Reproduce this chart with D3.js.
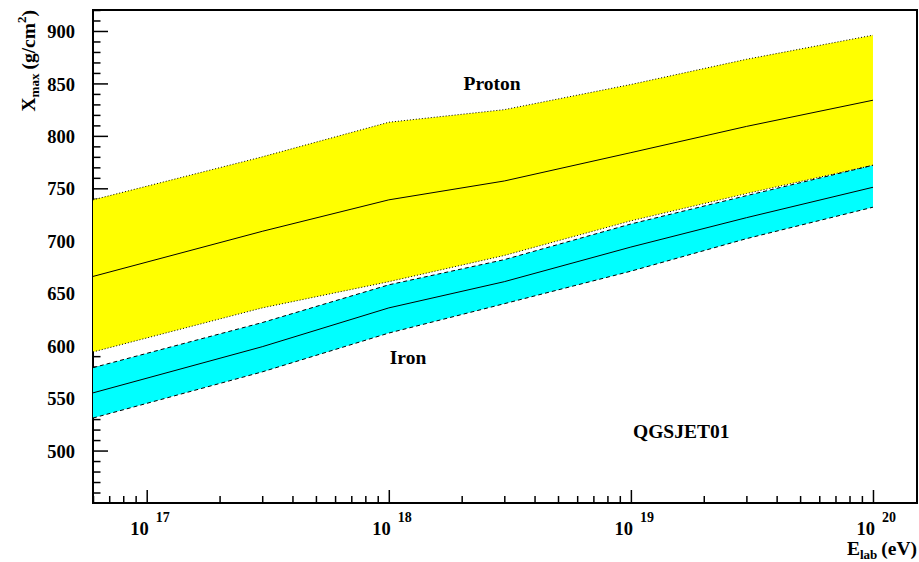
<!DOCTYPE html>
<html>
<head>
<meta charset="utf-8">
<script src="https://cdn.jsdelivr.net/npm/d3@7"></script>
<style>
  body { margin: 0; background: #fff; }
  svg { display: block; }
  text { font-family: "Liberation Serif", "Times New Roman", serif; font-weight: bold; fill: #000; }
</style>
</head>
<body>
<div id="chart"></div>
<script>
// E_lab (eV) sample points
var energy      = [6e16, 3e17, 1e18, 3e18, 1e19, 3e19, 1e20];
// Xmax (g/cm2), proton band
var protonMean  = [666, 709, 739, 757, 784, 809, 834];
var protonUpper = [739, 780, 813, 825, 849, 873, 896];
var protonLower = [594, 636, 661, 686, 719, 745, 772];
// Xmax (g/cm2), iron band
var ironMean    = [555, 599, 636, 661, 694, 722, 751];
var ironUpper   = [579, 622, 658, 682, 716, 743, 772];
var ironLower   = [531, 575, 612, 640, 671, 702, 732];

var yMajor = [500, 550, 600, 650, 700, 750, 800, 850, 900];
var xMajor = [1e17, 1e18, 1e19, 1e20];
var xExp   = ["17", "18", "19", "20"];

var W = 919, H = 562;
var frame = {left: 93, right: 917, top: 10, bottom: 503};

var x = d3.scaleLog().domain([6e16, 1.52e20]).range([frame.left, frame.right]);
var y = d3.scaleLinear().domain([450, 920]).range([frame.bottom, frame.top]);

var svg = d3.select("#chart").append("svg")
  .attr("width", W).attr("height", H);

// minor tick values
var yMinor = d3.range(450, 921, 10).filter(function(v){ return v % 50 !== 0; });
var xMinor = [];
[16, 17, 18, 19, 20].forEach(function(e){
  for (var k = 2; k <= 9; k++) {
    var v = k * Math.pow(10, e);
    if (v >= 6e16 && v <= 1.52e20) xMinor.push(v);
  }
});

function styleAxis(g){
  g.select(".domain").remove();
  g.selectAll(".tick line").attr("stroke", "#000").attr("stroke-width", 1.5);
}

// y axis
svg.append("g").attr("transform", "translate(" + frame.left + ",0)")
  .call(d3.axisLeft(y).tickValues(yMinor).tickSize(-7.5).tickFormat(""))
  .call(styleAxis);
svg.append("g").attr("transform", "translate(" + frame.left + ",0)")
  .call(d3.axisLeft(y).tickValues(yMajor).tickSize(-15).tickPadding(18).tickFormat(d3.format("d")))
  .call(styleAxis)
  .call(function(g){
    g.attr("font-family", null).attr("font-size", null);
    g.selectAll(".tick text").attr("font-size", 18.5).attr("dy", "0.36em");
  });

// x axis
svg.append("g").attr("transform", "translate(0," + frame.bottom + ")")
  .call(d3.axisBottom(x).tickValues(xMinor).tickSize(-7).tickFormat(""))
  .call(styleAxis);
svg.append("g").attr("transform", "translate(0," + frame.bottom + ")")
  .call(d3.axisBottom(x).tickValues(xMajor).tickSize(-13).tickFormat(""))
  .call(styleAxis);

var xl = svg.append("g").selectAll("g").data(xMajor).enter().append("g");
xl.append("text")
  .attr("x", function(d){ return x(d) + 2; })
  .attr("y", 535)
  .attr("text-anchor", "end")
  .attr("font-size", 18.5)
  .text("10");
xl.append("text")
  .attr("x", function(d){ return x(d) + 9; })
  .attr("y", 522)
  .attr("font-size", 14)
  .text(function(d, i){ return xExp[i]; });

// frame
svg.append("rect")
  .attr("x", frame.left).attr("y", frame.top)
  .attr("width", frame.right - frame.left).attr("height", frame.bottom - frame.top)
  .attr("fill", "none").attr("stroke", "#000").attr("stroke-width", 2);

// bands
function band(lo, hi){
  return d3.area()
    .x(function(d, i){ return x(energy[i]); })
    .y0(function(d, i){ return y(lo[i]); })
    .y1(function(d, i){ return y(hi[i]); })(energy);
}
function line(vals){
  return d3.line()
    .x(function(d, i){ return x(energy[i]); })
    .y(function(d){ return y(d); })(vals);
}

svg.append("path").attr("d", band(protonLower, protonUpper)).attr("fill", "#ffff00");
svg.append("path").attr("d", band(ironLower, ironUpper)).attr("fill", "#00ffff");

[[protonUpper, "1,2"], [protonLower, "1,2"], [ironUpper, "4,3"], [ironLower, "4,3"],
 [protonMean, null], [ironMean, null]].forEach(function(s){
  svg.append("path").attr("d", line(s[0]))
    .attr("fill", "none").attr("stroke", "#000").attr("stroke-width", 1)
    .attr("stroke-dasharray", s[1]);
});

// annotations
svg.append("text").attr("x", 492).attr("y", 90).attr("text-anchor", "middle")
  .attr("font-size", 19.5).text("Proton");
svg.append("text").attr("x", 408).attr("y", 364).attr("text-anchor", "middle")
  .attr("font-size", 19.5).text("Iron");
svg.append("text").attr("x", 633).attr("y", 438)
  .attr("font-size", 19.5).text("QGSJET01");

// axis titles
var yt = svg.append("text")
  .attr("transform", "translate(35,10) rotate(-90)")
  .attr("text-anchor", "end")
  .attr("font-size", 19.5);
yt.append("tspan").text("X");
yt.append("tspan").attr("font-size", 13).attr("dy", 4).text("max");
yt.append("tspan").attr("dy", -4).attr("dx", 4).text("(g/cm");
yt.append("tspan").attr("font-size", 13).attr("dy", -9).text("2");
yt.append("tspan").attr("dy", 9).text(")");

var xt = svg.append("text")
  .attr("x", frame.right).attr("y", 555)
  .attr("text-anchor", "end")
  .attr("font-size", 19.5);
xt.append("tspan").text("E");
xt.append("tspan").attr("font-size", 13).attr("dy", 4).text("lab");
xt.append("tspan").attr("dy", -4).attr("dx", 4).text("(eV)");
</script>
</body>
</html>
